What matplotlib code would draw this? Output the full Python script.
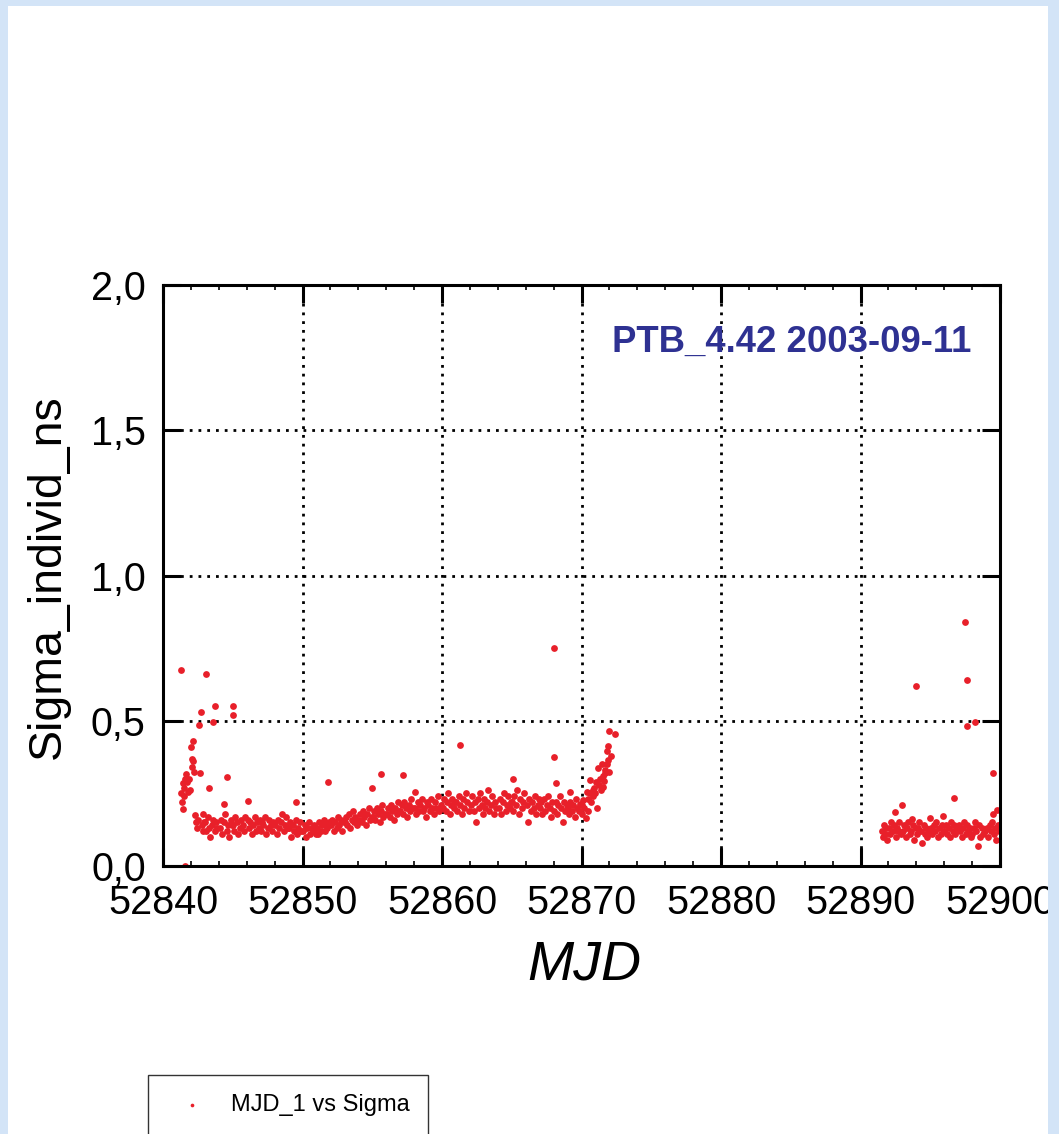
"""
PTB_4.42 individual sigma vs MJD (scatter)
"""

import numpy as np
import matplotlib
matplotlib.use("Agg")
import matplotlib.pyplot as plt
from matplotlib.patches import Rectangle

MJD0 = 52840

# start-up transient of the first run (days after MJD0)
day_start = [1.30, 1.35, 1.40, 1.42, 1.48, 1.52, 1.58, 1.62, 1.70, 1.78,
             1.85, 1.92, 2.00, 2.05, 2.10, 2.15, 2.18, 2.22, 2.30, 2.38,
             2.45, 2.52, 2.60, 2.65, 2.70, 2.78, 2.85, 2.90, 2.95]
sig_start = [0.25, 0.22, 0.285, 0.195, 0.24, 0.27, 0.30, 0.315, 0.29, 0.255,
             0.30, 0.26, 0.41, 0.37, 0.34, 0.43, 0.36, 0.325, 0.175, 0.15,
             0.13, 0.16, 0.485, 0.32, 0.53, 0.14, 0.12, 0.18, 0.15]

# main part of the first run, one line per day
day_main = [
    3.02, 3.11, 3.19, 3.31, 3.40, 3.52, 3.60, 3.71, 3.79, 3.90,
    4.06, 4.15, 4.26, 4.35, 4.44, 4.56, 4.65, 4.74, 4.85, 4.95,
    5.02, 5.11, 5.19, 5.31, 5.40, 5.52, 5.60, 5.71, 5.79, 5.90,
    6.06, 6.15, 6.26, 6.35, 6.44, 6.56, 6.65, 6.74, 6.85, 6.95,
    7.02, 7.11, 7.19, 7.31, 7.40, 7.52, 7.60, 7.71, 7.79, 7.90,
    8.06, 8.15, 8.26, 8.35, 8.44, 8.56, 8.65, 8.74, 8.85, 8.95,
    9.02, 9.11, 9.19, 9.31, 9.40, 9.52, 9.60, 9.71, 9.79, 9.90,
    10.06, 10.15, 10.26, 10.35, 10.44, 10.56, 10.65, 10.74, 10.85, 10.95,
    11.02, 11.11, 11.19, 11.31, 11.40, 11.52, 11.60, 11.71, 11.79, 11.90,
    12.06, 12.15, 12.26, 12.35, 12.44, 12.56, 12.65, 12.74, 12.85, 12.95,
    13.02, 13.11, 13.19, 13.31, 13.40, 13.52, 13.60, 13.71, 13.79, 13.90,
    14.06, 14.15, 14.26, 14.35, 14.44, 14.56, 14.65, 14.74, 14.85, 14.95,
    15.02, 15.11, 15.19, 15.31, 15.40, 15.52, 15.60, 15.71, 15.79, 15.90,
    16.06, 16.15, 16.26, 16.35, 16.44, 16.56, 16.65, 16.74, 16.85, 16.95,
    17.02, 17.11, 17.19, 17.31, 17.40, 17.52, 17.60, 17.71, 17.79, 17.90,
    18.06, 18.15, 18.26, 18.35, 18.44, 18.56, 18.65, 18.74, 18.85, 18.95,
    19.02, 19.11, 19.19, 19.31, 19.40, 19.52, 19.60, 19.71, 19.79, 19.90,
    20.06, 20.15, 20.26, 20.35, 20.44, 20.56, 20.65, 20.74, 20.85, 20.95,
    21.02, 21.11, 21.19, 21.31, 21.40, 21.52, 21.60, 21.71, 21.79, 21.90,
    22.06, 22.15, 22.26, 22.35, 22.44, 22.56, 22.65, 22.74, 22.85, 22.95,
    23.02, 23.11, 23.19, 23.31, 23.40, 23.52, 23.60, 23.71, 23.79, 23.90,
    24.06, 24.15, 24.26, 24.35, 24.44, 24.56, 24.65, 24.74, 24.85, 24.95,
    25.02, 25.11, 25.19, 25.31, 25.40, 25.52, 25.60, 25.71, 25.79, 25.90,
    26.06, 26.15, 26.26, 26.35, 26.44, 26.56, 26.65, 26.74, 26.85, 26.95,
    27.02, 27.11, 27.19, 27.31, 27.40, 27.52, 27.60, 27.71, 27.79, 27.90,
    28.06, 28.15, 28.26, 28.35, 28.44, 28.56, 28.65, 28.74, 28.85, 28.95,
    29.02, 29.11, 29.19, 29.31, 29.40, 29.52, 29.60, 29.71,
]
sig_main = [
    0.15, 0.12, 0.17, 0.13, 0.10, 0.14, 0.16, 0.12, 0.15, 0.13,
    0.13, 0.16, 0.11, 0.15, 0.18, 0.12, 0.14, 0.10, 0.16, 0.14,
    0.14, 0.12, 0.17, 0.15, 0.11, 0.13, 0.16, 0.14, 0.12, 0.17,
    0.16, 0.13, 0.15, 0.11, 0.14, 0.17, 0.12, 0.15, 0.13, 0.16,
    0.12, 0.15, 0.14, 0.17, 0.11, 0.13, 0.16, 0.14, 0.12, 0.15,
    0.14, 0.11, 0.16, 0.13, 0.15, 0.18, 0.12, 0.14, 0.17, 0.13,
    0.13, 0.15, 0.10, 0.14, 0.12, 0.16, 0.11, 0.13, 0.15, 0.12,
    0.12, 0.14, 0.10, 0.13, 0.15, 0.11, 0.13, 0.12, 0.14, 0.11,
    0.13, 0.11, 0.15, 0.12, 0.14, 0.16, 0.12, 0.14, 0.13, 0.15,
    0.14, 0.16, 0.12, 0.15, 0.13, 0.17, 0.14, 0.16, 0.12, 0.15,
    0.15, 0.17, 0.14, 0.18, 0.13, 0.16, 0.19, 0.15, 0.17, 0.14,
    0.16, 0.18, 0.15, 0.19, 0.17, 0.14, 0.18, 0.20, 0.16, 0.17,
    0.17, 0.19, 0.16, 0.20, 0.18, 0.15, 0.19, 0.21, 0.17, 0.18,
    0.18, 0.20, 0.17, 0.21, 0.19, 0.16, 0.20, 0.18, 0.22, 0.19,
    0.19, 0.21, 0.18, 0.22, 0.20, 0.17, 0.21, 0.19, 0.23, 0.20,
    0.20, 0.18, 0.22, 0.19, 0.21, 0.23, 0.19, 0.20, 0.17, 0.22,
    0.21, 0.19, 0.23, 0.20, 0.18, 0.22, 0.20, 0.24, 0.19, 0.21,
    0.20, 0.23, 0.19, 0.22, 0.25, 0.18, 0.21, 0.23, 0.20, 0.22,
    0.22, 0.19, 0.24, 0.21, 0.18, 0.23, 0.20, 0.25, 0.22, 0.19,
    0.21, 0.24, 0.19, 0.22, 0.15, 0.23, 0.20, 0.25, 0.21, 0.18,
    0.23, 0.20, 0.22, 0.26, 0.19, 0.21, 0.24, 0.18, 0.22, 0.20,
    0.20, 0.23, 0.18, 0.22, 0.25, 0.19, 0.21, 0.24, 0.20, 0.22,
    0.22, 0.19, 0.24, 0.21, 0.26, 0.18, 0.23, 0.20, 0.22, 0.25,
    0.21, 0.15, 0.23, 0.19, 0.22, 0.20, 0.24, 0.18, 0.21, 0.23,
    0.20, 0.22, 0.18, 0.23, 0.19, 0.21, 0.24, 0.20, 0.17, 0.22,
    0.19, 0.22, 0.18, 0.21, 0.24, 0.20, 0.15, 0.22, 0.19, 0.21,
    0.20, 0.18, 0.22, 0.19, 0.21, 0.17, 0.23, 0.20,
]

# ramp up at the end of the first run
day_ramp = [29.20, 29.80, 29.90, 30.00, 30.05, 30.10, 30.20, 30.30, 30.40, 30.45,
            30.50, 30.60, 30.62, 30.70, 30.80, 30.82, 30.90, 31.00, 31.05, 31.10,
            31.20, 31.22, 31.30, 31.40, 31.50, 31.52, 31.55, 31.60, 31.65, 31.70,
            31.80, 31.82, 31.90, 31.92, 31.95, 32.00, 32.10, 32.40]
sig_ramp = [0.255, 0.19, 0.215, 0.18, 0.21, 0.227, 0.20, 0.165, 0.255, 0.19,
            0.23, 0.296, 0.25, 0.22, 0.26, 0.24, 0.27, 0.25, 0.29, 0.20,
            0.337, 0.28, 0.30, 0.26, 0.35, 0.31, 0.272, 0.293, 0.32, 0.33,
            0.396, 0.35, 0.413, 0.365, 0.323, 0.465, 0.38, 0.454]

# second run
day_run2 = [
    51.52, 51.60, 51.68, 51.77, 51.85, 51.93,
    52.02, 52.11, 52.19, 52.31, 52.40, 52.52, 52.60, 52.71, 52.79, 52.90,
    53.06, 53.15, 53.26, 53.35, 53.44, 53.56, 53.65, 53.74, 53.85, 53.95,
    54.02, 54.11, 54.19, 54.31, 54.40, 54.52, 54.60, 54.71, 54.79, 54.90,
    55.06, 55.15, 55.26, 55.35, 55.44, 55.56, 55.65, 55.74, 55.85, 55.95,
    56.02, 56.11, 56.19, 56.31, 56.40, 56.52, 56.60, 56.71, 56.79, 56.90,
    57.06, 57.15, 57.26, 57.35, 57.44, 57.56, 57.65, 57.74, 57.85, 57.95,
    58.02, 58.11, 58.19, 58.31, 58.40, 58.52, 58.60, 58.71, 58.79, 58.90,
    59.06, 59.15, 59.26, 59.35, 59.44, 59.56, 59.65, 59.74, 59.85, 59.95,
]
sig_run2 = [
    0.12, 0.10, 0.14, 0.11, 0.13, 0.09,
    0.13, 0.11, 0.15, 0.12, 0.14, 0.10, 0.13, 0.12, 0.15, 0.11,
    0.12, 0.14, 0.10, 0.13, 0.15, 0.11, 0.12, 0.14, 0.09, 0.13,
    0.11, 0.13, 0.15, 0.12, 0.08, 0.14, 0.11, 0.13, 0.10, 0.12,
    0.13, 0.11, 0.14, 0.12, 0.15, 0.10, 0.13, 0.11, 0.14, 0.12,
    0.12, 0.14, 0.11, 0.13, 0.10, 0.15, 0.12, 0.14, 0.11, 0.13,
    0.14, 0.12, 0.10, 0.13, 0.15, 0.11, 0.14, 0.12, 0.13, 0.10,
    0.11, 0.13, 0.15, 0.12, 0.07, 0.14, 0.10, 0.13, 0.11, 0.12,
    0.13, 0.10, 0.14, 0.12, 0.15, 0.11, 0.13, 0.09, 0.14, 0.12,
]

# isolated points
day_out = [1.30, 1.60, 3.10, 3.70, 5.00, 5.00, 3.60, 4.60, 4.40, 6.10,
           9.50, 3.30, 11.80, 15.60, 17.20, 15.00, 18.10, 21.30, 25.10, 28.00,
           28.00, 28.20, 57.50, 57.60, 54.00, 57.60, 58.20, 59.50, 56.70, 53.00,
           52.50, 59.80, 59.50, 55.00, 55.90, 53.70]
sig_out = [0.675, 0.0, 0.66, 0.55, 0.55, 0.52, 0.495, 0.305, 0.215, 0.225,
           0.22, 0.27, 0.29, 0.317, 0.313, 0.27, 0.255, 0.417, 0.30, 0.375,
           0.75, 0.285, 0.84, 0.64, 0.62, 0.482, 0.496, 0.32, 0.234, 0.21,
           0.186, 0.193, 0.18, 0.165, 0.172, 0.162]

xticks = [52840, 52850, 52860, 52870, 52880, 52890, 52900]
xtick_labels = ["52840", "52850", "52860", "52870", "52880", "52890", "52900"]
yticks = [0.0, 0.5, 1.0, 1.5, 2.0]
ytick_labels = ["0,0", "0,5", "1,0", "1,5", "2,0"]

TITLE = "PTB_4.42 2003-09-11"
SERIES = "MJD_1 vs Sigma"

RED = "#E8202A"
NAVY = "#2E3192"
PAGE_BG = "#D3E4F7"

W, H = 1059, 1134

plt.rcParams["font.family"] = ["Liberation Sans", "DejaVu Sans"]

mjd = MJD0 + np.concatenate([day_start, day_main, day_ramp, day_run2, day_out])
sigma = np.concatenate([sig_start, sig_main, sig_ramp, sig_run2, sig_out])

fig = plt.figure(figsize=(W / 100, H / 100), dpi=100, facecolor=PAGE_BG)

# white page panel on the textured blue background
fig.add_artist(Rectangle((8 / W, 0), (1048 - 8) / W, 1 - 6 / H,
                         transform=fig.transFigure, facecolor="white",
                         edgecolor="none", zorder=-5))

ax = fig.add_axes([163 / W, 1 - 866 / H, (1000 - 163) / W, (866 - 285) / H])
ax.scatter(mjd, sigma, s=24, color=RED, linewidths=0, zorder=2)

ax.set_xlim(52840, 52900)
ax.set_ylim(0, 2)
ax.set_xticks(xticks)
ax.set_xticklabels(xtick_labels)
ax.set_xticks(np.arange(52840, 52901, 2), minor=True)
ax.set_yticks(yticks)
ax.set_yticklabels(ytick_labels)

ax.tick_params(which="major", direction="in", length=13, width=2.2,
               top=True, right=True, labelsize=28.5, colors="black")
ax.tick_params(axis="x", which="major", pad=13)
ax.tick_params(axis="y", which="major", pad=12.5)
ax.tick_params(axis="x", which="minor", direction="in", length=3.5,
               width=1.2, top=True, bottom=True)
ax.grid(which="major", color="black", linestyle=(0, (1, 2.15)), linewidth=2.0)
for sp in ax.spines.values():
    sp.set_linewidth(2.2)

fig.text(791.5 / W, 1 - 352 / H, TITLE, ha="center", va="baseline",
         fontsize=26.3, fontweight="bold", color=NAVY)
fig.text(48 / W, 1 - 577 / H, "Sigma_individ_ns", rotation=90,
         ha="center", va="center", fontsize=33.5)
fig.text(584 / W, 1 - 965 / H, "MJD", ha="center", va="center",
         fontsize=40, fontstyle="italic")

# legend box, runs off the bottom of the page
leg_ax = fig.add_axes([0, 0, 1, 1], facecolor="none", zorder=3)
leg_ax.set_xlim(0, W)
leg_ax.set_ylim(H, 0)
leg_ax.axis("off")
leg_ax.add_patch(Rectangle((148, 1075), 428 - 148, 100, facecolor="white",
                           edgecolor="#333333", linewidth=1.0, zorder=1,
                           clip_on=False))
leg_ax.scatter([192], [1105], s=7, color=RED, linewidths=0, zorder=5)
leg_ax.text(231, 1105, SERIES, ha="left", va="center", fontsize=17, zorder=5)

# page edge cuts the last tick label
fig.add_artist(Rectangle((1048 / W, 0), (W - 1048) / W, 1,
                         transform=fig.transFigure, facecolor=PAGE_BG,
                         edgecolor="none", zorder=10))

fig.savefig("out.png", dpi=100, facecolor=PAGE_BG)
